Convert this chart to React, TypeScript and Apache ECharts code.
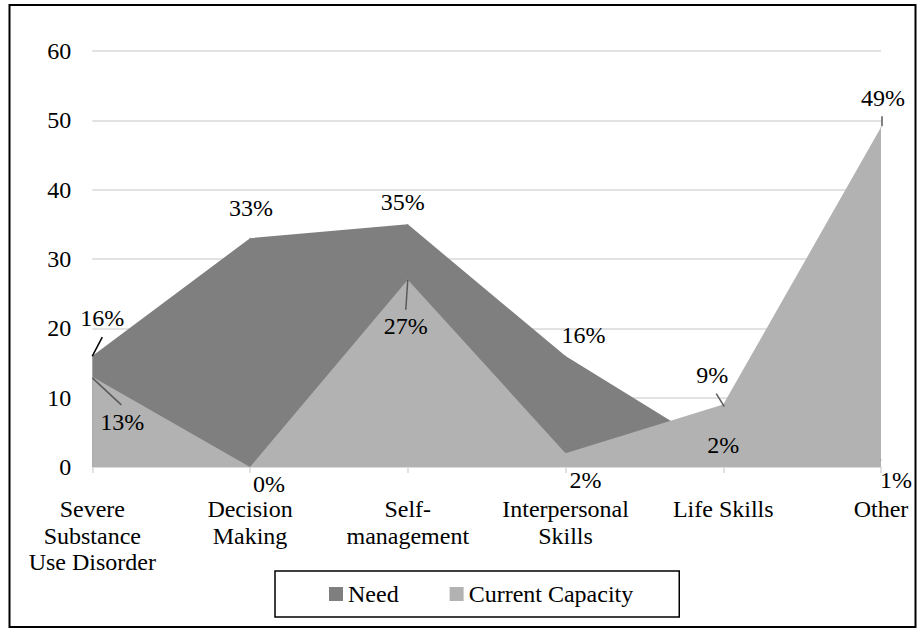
import React, { useEffect, useRef } from "react";
import * as echarts from "echarts";

const categories = [
  "Severe\nSubstance\nUse Disorder",
  "Decision\nMaking",
  "Self-\nmanagement",
  "Interpersonal\nSkills",
  "Life Skills",
  "Other",
];
const needValues = [16, 33, 35, 16, 2, 1];
const capacityValues = [13, 0, 27, 2, 9, 49];
const yTicks = { min: 0, max: 60, interval: 10 };

// label centre offsets (px) relative to each data point
const needLabelOffsets = [
  [10, -38],
  [1, -30],
  [-5, -22],
  [18, -21],
  [0, -8],
  [15, 20],
];
const capacityLabelOffsets = [
  [30, 45],
  [19, 17],
  [-2, 46],
  [20, 27],
  [-11, -30],
  [2, -29],
];
// leader lines: [seriesIndex, dataIndex, dx1, dy1, dx2, dy2, color]
const leaders: [number, number, number, number, number, number, string][] = [
  [0, 0, 0, 0, 10, -19, "#000000"],
  [1, 0, 0, 1, 29, 28, "#595959"],
  [1, 2, 0, 0, -2, 30, "#595959"],
  [1, 4, 1, 2, -7, -11, "#595959"],
  [1, 5, 1, -1, 1, -11, "#595959"],
];

const FONT = "Liberation Serif";
const NEED_COLOR = "#7f7f7f";
const CAP_COLOR = "#b2b2b2";

export default function App() {
  const ref = useRef<HTMLDivElement>(null);
  useEffect(() => {
    document.body.style.margin = "0";
    if (!ref.current) return;
    const chart = echarts.init(ref.current, null, { renderer: "svg" });
    const offsets = [needLabelOffsets, capacityLabelOffsets];
    const seriesValues = [needValues, capacityValues];
    const labelStyle = {
      show: true,
      position: "inside",
      fontFamily: FONT,
      fontSize: 24,
      color: "#000",
      formatter: (p: any) => `${p.value}%`,
    };
    const labelLayout = (params: any) => {
      const off = offsets[params.seriesIndex]?.[params.dataIndex] || [0, 0];
      return {
        x: params.rect.x + params.rect.width / 2 + off[0],
        y: params.rect.y + params.rect.height / 2 + off[1],
        align: "center",
        verticalAlign: "middle",
      };
    };
    chart.setOption({
      animation: false,
      textStyle: { fontFamily: FONT },
      grid: { left: 92.3, right: 37, top: 51, bottom: 162, containLabel: false },
      xAxis: {
        type: "category",
        data: categories,
        boundaryGap: false,
        axisLine: { lineStyle: { color: "#d9d9d9", width: 1.5 } },
        axisTick: { show: true, length: 6, lineStyle: { color: "#d9d9d9", width: 1.5 } },
        axisLabel: {
          interval: 0,
          margin: 29,
          fontFamily: FONT,
          fontSize: 24,
          lineHeight: 26.5,
          color: "#000",
        },
        splitLine: { show: false },
      },
      yAxis: {
        type: "value",
        min: yTicks.min,
        max: yTicks.max,
        interval: yTicks.interval,
        axisLine: { show: false },
        axisTick: { show: false },
        axisLabel: { margin: 21, fontFamily: FONT, fontSize: 24, color: "#000" },
        splitLine: { lineStyle: { color: "#d9d9d9", width: 1.5 } },
      },
      legend: {
        left: 275,
        top: 571,
        data: ["Need", "Current Capacity"],
        icon: "rect",
        itemWidth: 14,
        itemHeight: 14,
        itemGap: 51,
        padding: [11, 46, 11, 54],
        borderColor: "#000",
        borderWidth: 1.5,
        textStyle: { fontFamily: FONT, fontSize: 24, color: "#000" },
      },
      graphic: [
        {
          type: "rect",
          shape: { x: 9.5, y: 5, width: 906, height: 622 },
          style: { fill: "none", stroke: "#000", lineWidth: 2 },
          silent: true,
        },
      ],
      series: [
        {
          name: "Need",
          type: "line",
          data: needValues,
          symbol: "circle",
          symbolSize: 1,
          itemStyle: { color: NEED_COLOR },
          lineStyle: { width: 0, color: NEED_COLOR },
          areaStyle: { color: NEED_COLOR, opacity: 1 },
          label: labelStyle,
          labelLayout,
        },
        {
          name: "Current Capacity",
          type: "line",
          data: capacityValues,
          symbol: "circle",
          symbolSize: 1,
          itemStyle: { color: CAP_COLOR },
          lineStyle: { width: 0, color: CAP_COLOR },
          areaStyle: { color: CAP_COLOR, opacity: 1 },
          label: labelStyle,
          labelLayout,
        },
        {
          type: "custom",
          coordinateSystem: "cartesian2d",
          silent: true,
          data: leaders.map((l) => [l[1], seriesValues[l[0]][l[1]]]),
          renderItem: (params: any, api: any) => {
            const l = leaders[params.dataIndex];
            const p = api.coord([api.value(0), api.value(1)]);
            return {
              type: "line",
              shape: { x1: p[0] + l[2], y1: p[1] + l[3], x2: p[0] + l[4], y2: p[1] + l[5] },
              style: { stroke: l[6], lineWidth: 1.5 },
            };
          },
          z: 5,
        },
      ],
    });
    return () => chart.dispose();
  }, []);
  return <div ref={ref} style={{ width: 918, height: 629 }} />;
}
